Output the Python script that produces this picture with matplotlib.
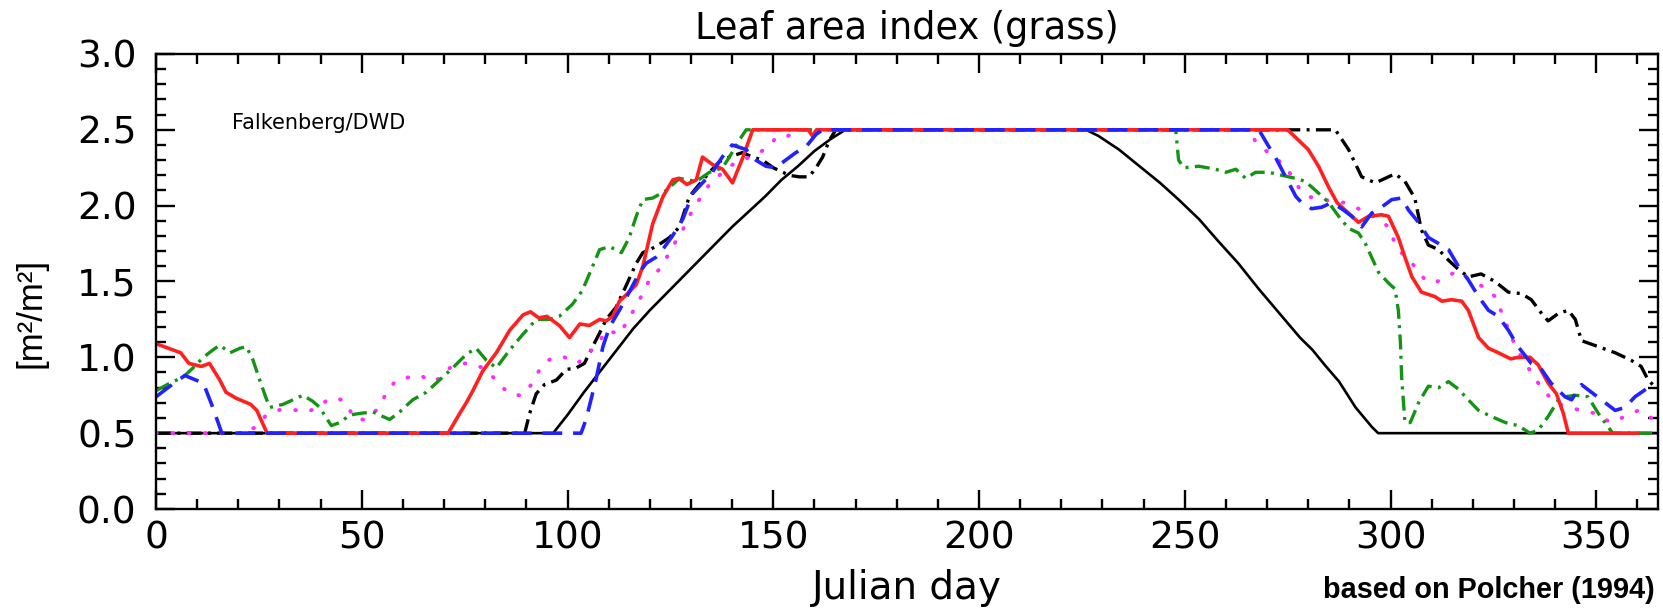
import matplotlib
matplotlib.use("Agg")
import matplotlib.pyplot as plt
from matplotlib.ticker import MultipleLocator

black_solid = [(0, 0.5), (96.5, 0.5), (100, 0.62), (104, 0.77), (108, 0.91), (112, 1.05),
               (116, 1.19), (120, 1.31), (124, 1.42), (128, 1.53), (132, 1.64), (136, 1.75),
               (140, 1.86), (144, 1.96), (148, 2.06), (152, 2.17), (156, 2.26), (160, 2.36),
               (164, 2.44), (167.5, 2.5), (226, 2.5), (229, 2.46), (234, 2.37), (239, 2.26),
               (244, 2.15), (248.5, 2.04), (253.5, 1.91), (258, 1.77), (263, 1.62), (268, 1.45),
               (273, 1.29), (278, 1.13), (281, 1.05), (284, 0.95), (287.5, 0.84), (291.5, 0.67),
               (295.5, 0.54), (297, 0.5), (365, 0.5)]

black_dashdot = [(0, 0.5), (89.6, 0.5), (90.8, 0.63), (92.4, 0.76), (94.4, 0.82), (97.3, 0.85),
                 (99.7, 0.92), (102.1, 0.93), (104.1, 0.96), (106.1, 1.07), (107.8, 1.16),
                 (109.4, 1.25), (111.8, 1.33), (114.2, 1.47), (116.7, 1.62), (118.3, 1.69),
                 (121.5, 1.73), (124.8, 1.79), (127.2, 1.86), (129.6, 2.06), (132, 2.14),
                 (134.5, 2.22), (136.9, 2.29), (139.3, 2.32), (142.5, 2.35), (145, 2.32),
                 (147.4, 2.30), (150, 2.25), (153.9, 2.20), (156.3, 2.19), (158.7, 2.19),
                 (160.4, 2.25), (162, 2.32), (163.6, 2.43), (165.2, 2.5), (286.6, 2.5),
                 (289.8, 2.37), (293, 2.19), (296.3, 2.15), (298.7, 2.18), (301.1, 2.21),
                 (303.5, 2.16), (305.9, 2.05), (307.5, 1.84), (309.2, 1.74), (311.7, 1.71),
                 (314.1, 1.64), (316.5, 1.58), (318.9, 1.53), (322, 1.55), (325.4, 1.50),
                 (328.6, 1.43), (331.8, 1.42), (334.2, 1.38), (336.7, 1.29), (338.3, 1.24),
                 (340.8, 1.29), (343.2, 1.31), (344.9, 1.25), (346.4, 1.11), (350.5, 1.07),
                 (354.6, 1.03), (358.5, 0.98), (360.9, 0.94), (362.6, 0.85), (364.5, 0.80)]

green = [(0, 0.78), (3.4, 0.83), (6.6, 0.87), (9, 0.93), (11.5, 1.0), (13.9, 1.05), (15.5, 1.08),
         (18, 1.03), (20.4, 1.06), (22, 1.07), (23.6, 0.98), (25.2, 0.85), (26.9, 0.72),
         (27.7, 0.67), (30.9, 0.69), (33.3, 0.72), (35.7, 0.75), (38.1, 0.71), (39.8, 0.67),
         (41.4, 0.60), (42.6, 0.55), (44.7, 0.57), (47.1, 0.62), (49.5, 0.63), (52.7, 0.64),
         (55.1, 0.61), (56.8, 0.59), (59.2, 0.64), (62.4, 0.72), (65.7, 0.77), (68.9, 0.85),
         (72.1, 0.93), (75.4, 1.02), (77.8, 1.06), (80.3, 0.98), (82.7, 0.93), (86, 1.05),
         (89.1, 1.15), (92.4, 1.25), (95.6, 1.25), (98, 1.27), (101.2, 1.35), (103.6, 1.44),
         (106.1, 1.60), (107.8, 1.71), (110.2, 1.73), (113.1, 1.69), (115, 1.79), (116.7, 1.93),
         (118.3, 2.04), (120.7, 2.05), (124, 2.10), (127.2, 2.18), (131.3, 2.16), (134.5, 2.22),
         (137.7, 2.25), (140, 2.35), (141.7, 2.43), (143.4, 2.5), (247.8, 2.5), (248.5, 2.30),
         (249.8, 2.25), (253.4, 2.26), (257.5, 2.24), (260, 2.22), (262.4, 2.24), (264.8, 2.18),
         (267.2, 2.22), (270.4, 2.22), (273.6, 2.20), (276.9, 2.18), (279.3, 2.16),
         (281.8, 2.10), (285, 2.02), (287.4, 1.93), (289.8, 1.85), (292.2, 1.82), (293.9, 1.75),
         (295.4, 1.66), (297.1, 1.56), (299.5, 1.49), (301.1, 1.45), (301.9, 1.31),
         (302.4, 1.10), (302.7, 0.87), (303.5, 0.57), (304.8, 0.57), (306.8, 0.70),
         (309.2, 0.81), (311.7, 0.80), (314.1, 0.84), (316.5, 0.79), (318.9, 0.72),
         (321.4, 0.65), (324.5, 0.61), (327.9, 0.57), (331, 0.55), (333.9, 0.50), (335.9, 0.52),
         (338.3, 0.61), (340.8, 0.72), (342.4, 0.74), (344.9, 0.75), (348, 0.74), (350.5, 0.63),
         (352.9, 0.54), (354, 0.5), (365, 0.5)]

magenta = [(0, 0.5), (20, 0.5), (21.4, 0.51), (24.4, 0.54), (26.5, 0.61), (29.3, 0.65),
           (31.7, 0.66), (34.5, 0.65), (36.9, 0.64), (39.8, 0.68), (42.2, 0.73), (45.4, 0.72),
           (47.1, 0.65), (48.7, 0.59), (51.1, 0.59), (53.5, 0.65), (55.1, 0.72), (56.3, 0.78),
           (58.4, 0.85), (61.7, 0.87), (64.5, 0.88), (66.5, 0.84), (68.9, 0.86), (71.4, 0.93),
           (73.8, 0.96), (76.9, 0.96), (79.4, 0.93), (82.3, 0.86), (84.2, 0.80), (86.7, 0.75),
           (89.1, 0.75), (91.2, 0.82), (92.4, 0.88), (93.9, 0.95), (96.4, 1.00), (99.3, 1.00),
           (102.4, 0.96), (105.3, 1.03), (107.8, 1.11), (109.7, 1.18), (112.6, 1.15),
           (115, 1.26), (117.5, 1.38), (119.9, 1.51), (122.3, 1.58), (124.8, 1.69),
           (126.8, 1.79), (128, 1.84), (129.6, 1.93), (130.8, 1.99), (132.5, 2.06),
           (134.5, 2.14), (136.9, 2.20), (139.3, 2.26), (141.7, 2.29), (144.2, 2.32),
           (146.6, 2.35), (149, 2.39), (150.7, 2.45), (153, 2.45), (156, 2.5), (265.5, 2.5),
           (267.5, 2.41), (274.5, 2.26), (277.7, 2.12), (280, 2.06), (283.3, 2.04),
           (288.6, 2.02), (292.2, 1.98), (297.1, 1.91), (299.5, 1.86), (301.1, 1.75),
           (303.5, 1.66), (305.9, 1.60), (308.4, 1.51), (310.8, 1.49), (313.2, 1.53),
           (315.7, 1.56), (318.2, 1.53), (320.6, 1.49), (323, 1.46), (325.4, 1.40),
           (327.4, 1.27), (329.4, 1.13), (331.8, 1.0), (334.2, 0.90), (335.9, 0.83),
           (337.6, 0.77), (340, 0.70), (343.2, 0.67), (346.4, 0.65), (349.8, 0.63),
           (352.2, 0.59), (353.6, 0.57), (357, 0.61), (360.2, 0.65), (363.4, 0.60), (365, 0.58)]

red = [(0, 1.09), (6, 1.03), (8, 0.96), (11, 0.94), (13, 0.96), (15.5, 0.85), (17, 0.77),
       (19.5, 0.73), (23, 0.69), (24.5, 0.65), (27, 0.5), (71, 0.5), (73.8, 0.63), (75.4, 0.70),
       (77, 0.78), (79.4, 0.91), (82.7, 1.03), (86, 1.18), (89.2, 1.28), (91, 1.30), (93, 1.26),
       (95, 1.27), (98, 1.21), (100.5, 1.13), (103, 1.22), (105.3, 1.21), (107.8, 1.25),
       (109.4, 1.24), (111, 1.27), (112.6, 1.37), (114.2, 1.41), (116.7, 1.48), (118.3, 1.60),
       (120.7, 1.88), (123.2, 2.06), (125.6, 2.17), (127, 2.18), (129, 2.14), (131.3, 2.17),
       (132.8, 2.32), (135.3, 2.27), (137.7, 2.24), (140.1, 2.15), (142.5, 2.31), (145, 2.5),
       (158.5, 2.5), (159.5, 2.46), (160.5, 2.5), (275, 2.5), (277.7, 2.43), (280, 2.37),
       (282.5, 2.26), (285, 2.12), (287, 2.02), (289.8, 1.95), (292.2, 1.89), (294.7, 1.93),
       (297.8, 1.94), (299.5, 1.93), (301.9, 1.79), (303.5, 1.66), (305.2, 1.53),
       (307.5, 1.43), (310.8, 1.40), (312.5, 1.37), (314.8, 1.38), (317.3, 1.37),
       (318.9, 1.31), (321.4, 1.13), (323.8, 1.06), (326.2, 1.03), (329.2, 0.99), (331, 1.0),
       (333.9, 1.0), (335.9, 0.95), (338.3, 0.83), (340.3, 0.76), (342, 0.63), (343.2, 0.5),
       (360, 0.5)]

blue = [(0, 0.74), (3.4, 0.81), (7, 0.88), (11.5, 0.83), (13.8, 0.67), (16, 0.5), (103.3, 0.5),
        (104.5, 0.59), (106.9, 0.85), (108.6, 1.07), (110.2, 1.20), (112.6, 1.31), (115, 1.43),
        (117.5, 1.56), (119.1, 1.62), (121.5, 1.66), (123.1, 1.71), (125.5, 1.80), (128, 1.91),
        (130.4, 2.08), (132.8, 2.15), (135.2, 2.22), (137.6, 2.32), (140, 2.40), (143.4, 2.37),
        (145.8, 2.30), (148.2, 2.26), (150.6, 2.25), (153, 2.30), (155.5, 2.35), (158, 2.39),
        (160.4, 2.47), (162, 2.5), (268, 2.5), (270.4, 2.39), (272, 2.32), (274.5, 2.19),
        (277, 2.06), (278.4, 2.02), (280.8, 1.98), (283.3, 1.99), (285.7, 2.02), (288.1, 1.98),
        (290.6, 1.93), (293, 1.86), (295.4, 1.95), (297.8, 1.99), (300.3, 2.04), (302.7, 2.05),
        (304.4, 1.97), (306.8, 1.89), (309.2, 1.79), (311.7, 1.75), (314.1, 1.71),
        (316.5, 1.60), (318.9, 1.51), (321.4, 1.40), (323.8, 1.31), (326.2, 1.27),
        (328.6, 1.18), (331, 1.07), (334.2, 0.96), (336.7, 0.92), (339, 0.83), (342.4, 0.74),
        (344, 0.72), (346.4, 0.82), (348.8, 0.77), (352.2, 0.70), (354.6, 0.65), (357, 0.67),
        (359.4, 0.74), (362.6, 0.80), (364.5, 0.81)]

x_ticks = [0, 50, 100, 150, 200, 250, 300, 350]
y_ticks = [0.0, 0.5, 1.0, 1.5, 2.0, 2.5, 3.0]

fig = plt.figure(figsize=(16.63, 6.12), dpi=100)
ax = fig.add_axes([0.0938, 0.1683, 0.9032, 0.7435])

def draw(pts, **kw):
    d, v = zip(*pts)
    ax.plot(d, v, **kw)

# order matters where the curves overlap on 0.5 / 2.5
dashdot = (4.5, 1.9, 0.9, 1.9)
draw(black_solid, color="black", lw=1.9)
draw(black_dashdot, color="black", lw=2.4, dashes=dashdot)
draw(magenta, color="#ff2cff", lw=2.8, dashes=(0.2, 4.0), dash_capstyle="round")
draw(green, color="#149414", lw=2.4, dashes=dashdot)
draw(red, color="#ff2020", lw=2.6)
draw(blue, color="#2222ff", lw=2.6, dashes=(5.5, 3.0))

ax.set_xlim(0, 365)
ax.set_ylim(0, 3)
ax.set_xticks(x_ticks)
ax.set_yticks(y_ticks)
ax.set_yticklabels([f"{t:.1f}" for t in y_ticks])
ax.xaxis.set_minor_locator(MultipleLocator(10))
ax.yaxis.set_minor_locator(MultipleLocator(0.1))
ax.tick_params(which="both", direction="in", top=True, right=True, width=1.7, labelsize=27)
ax.tick_params(which="major", length=14)
ax.tick_params(which="minor", length=7)
ax.tick_params(axis="x", pad=8)
ax.tick_params(axis="y", pad=14)
for sp in ax.spines.values():
    sp.set_linewidth(1.7)

ax.set_title("Leaf area index (grass)", fontsize=26.5, pad=11)
ax.set_xlabel("Julian day", fontsize=28, labelpad=9)
ax.set_ylabel("[m²/m²]", fontsize=25, family="Liberation Sans")
ax.yaxis.set_label_coords(-0.072, 0.43)

ax.text(0.0506, 0.835, "Falkenberg/DWD", transform=ax.transAxes, fontsize=15, va="baseline")
fig.text(0.995, 1 - 598 / 612, "based on Polcher (1994)", ha="right", va="baseline",
         fontsize=20.8, fontweight="bold", family="Liberation Sans")

fig.savefig("out.png", dpi=100)
